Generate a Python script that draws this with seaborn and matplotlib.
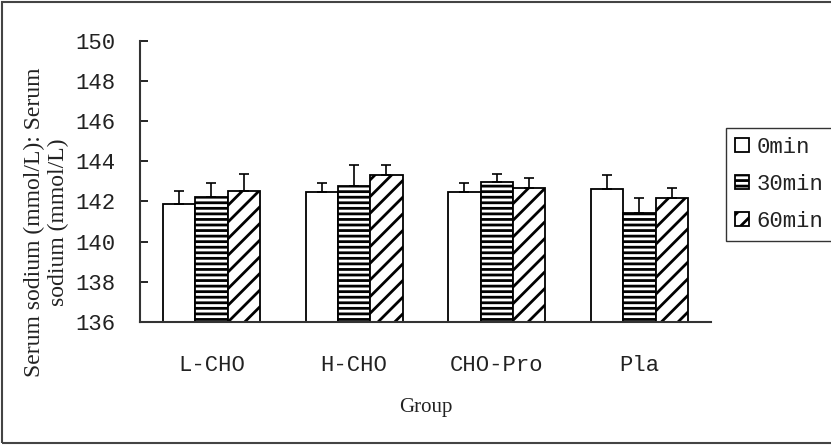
import numpy as np
import pandas as pd
import matplotlib
matplotlib.use("Agg")
import matplotlib.pyplot as plt
import seaborn as sns
from matplotlib.patches import Rectangle

groups = ["L-CHO", "H-CHO", "CHO-Pro", "Pla"]
times = ["0min", "30min", "60min"]
mean_0 = [141.86, 142.45, 142.45, 142.62]
mean_30 = [142.23, 142.78, 142.98, 141.41]
mean_60 = [142.53, 143.32, 142.68, 142.15]
sd_0 = [0.67, 0.47, 0.47, 0.70]
sd_30 = [0.70, 1.05, 0.40, 0.74]
sd_60 = [0.85, 0.51, 0.47, 0.53]
yticks = [136, 138, 140, 142, 144, 146, 148, 150]

sns.set_theme(style="white")
plt.rcParams["hatch.linewidth"] = 2.0
plt.rcParams["hatch.color"] = "black"

df = pd.DataFrame({
    "Group": groups * 3,
    "Time": [t for t in times for _ in groups],
    "value": mean_0 + mean_30 + mean_60,
    "sd": sd_0 + sd_30 + sd_60,
})

fig = plt.figure(figsize=(8.31, 4.45), dpi=100)
ax = fig.add_axes([0.1685, 0.277, 0.8552 - 0.1685, 0.908 - 0.277])

sns.barplot(data=df, x="Group", y="value", hue="Time", order=groups,
            hue_order=times, palette=["white"] * 3, edgecolor="black",
            linewidth=1.3, width=0.68, gap=0, errorbar=None, ax=ax,
            legend=True)

hatches = {"0min": "", "30min": "---", "60min": "//"}
for cont, t in zip(ax.containers, times):
    sub = df[df["Time"] == t].set_index("Group").loc[groups]
    for bar, (v, s) in zip(cont, zip(sub["value"], sub["sd"])):
        bar.set_hatch(hatches[t])
        bar.set_facecolor("white")
        bar.set_edgecolor("black")
        xc = bar.get_x() + bar.get_width() / 2
        ax.errorbar(xc, v, yerr=[[0], [s]], fmt="none", ecolor="black",
                    elinewidth=1.2, capsize=3.6, capthick=1.2, zorder=5)

ax.set_ylim(136, 150)
ax.set_xlim(-0.5, 3.5)
ax.set_yticks(yticks)
ax.set_yticklabels([str(v) for v in yticks], family="Liberation Mono",
                   fontsize=16, color="#222222")
ax.set_xticks(range(len(groups)))
ax.set_xticklabels(groups, family="Liberation Mono", fontsize=16, color="#222222")
ax.set_xticks(np.arange(-0.5, 4.0, 1.0), minor=True)
ax.tick_params(axis="x", which="major", length=0, pad=24)
ax.tick_params(axis="x", which="minor", direction="in", length=6, width=1.2, color="black")
ax.tick_params(axis="y", which="major", direction="in", length=6, width=1.2,
               color="black", pad=18, left=True)
for side in ["top", "right"]:
    ax.spines[side].set_visible(False)
for side in ["left", "bottom"]:
    ax.spines[side].set_color("#333333")
    ax.spines[side].set_linewidth(1.5)
ax.set_xlabel("Group", family="Liberation Serif", fontsize=15, labelpad=16,
              color="#222222")
ax.set_ylabel("")
ax.grid(False)

fig.text(0.056, 0.50, "Serum sodium (mmol/L): Serum\nsodium (mmol/L)",
         rotation=90, ha="center", va="center", family="Liberation Serif",
         fontsize=17, linespacing=1.2, multialignment="center", color="#222222")

ax.get_legend().remove()
handles = [ax.containers[i][0] for i in range(3)]
leg = fig.legend(handles, times, loc="upper left", bbox_to_anchor=(0.874, 0.712),
                 prop={"family": "Liberation Mono", "size": 16},
                 frameon=True, fancybox=False, edgecolor="black",
                 handlelength=0.6, handleheight=0.6, handletextpad=0.35,
                 labelspacing=0.72, borderpad=0.4, borderaxespad=0)
leg.get_frame().set_linewidth(1.0)
for txt in leg.get_texts():
    txt.set_color("#222222")

fig.patches.append(Rectangle((0.003, 0.004), 1.2, 0.992, transform=fig.transFigure,
                             fill=False, edgecolor="#444444", linewidth=1.5))

fig.savefig("out.png", dpi=100)
